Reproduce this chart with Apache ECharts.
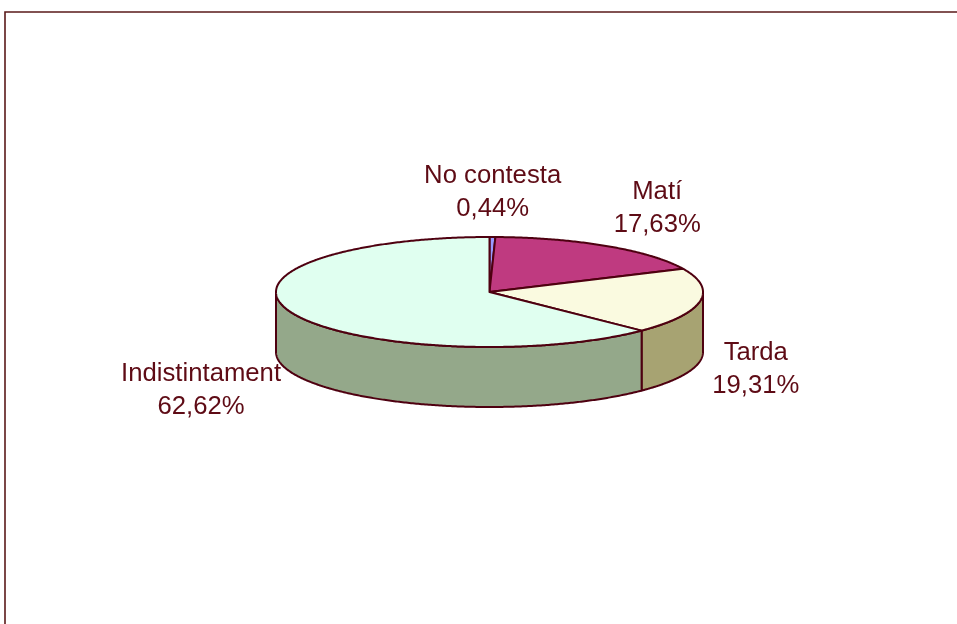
<!DOCTYPE html>
<html>
<head>
<meta charset="utf-8">
<script src="https://cdn.jsdelivr.net/npm/echarts@6/dist/echarts.min.js"></script>
<style>html,body{margin:0;padding:0;background:#fff}#c{width:957px;height:624px}</style>
</head>
<body>
<div id="c"></div>
<script>
// ---- data ----
const categories = ['No contesta', 'Matí', 'Tarda', 'Indistintament'];
const values = [0.44, 17.63, 19.31, 62.62];
const valueLabels = ['0,44%', '17,63%', '19,31%', '62,62%'];

// ---- style ----
const topColors = ['#9999ff', '#bf3a80', '#fafae0', '#e0fff0'];
const sideColors = ['#6f6fbf', '#8a2a5c', '#a7a372', '#94a88a'];
const STROKE = '#4e0010';
const TEXT = '#5e0b15';
const FONT_SIZE = 25.7;
const FONT = FONT_SIZE + 'px "Liberation Sans", Arial, sans-serif';

// geometry of the tilted pie
const CX = 489.5, CY = 292, RX = 213.5, RY = 55, DEPTH = 60;
const LRX = 226, LRY = 100;

const total = values.reduce((a, b) => a + b, 0);
const starts = [];
let acc = 0;
values.forEach(v => { starts.push(acc); acc += v; });

const measureCtx = document.createElement('canvas').getContext('2d');
measureCtx.font = FONT;
function textWidth(lines) {
  return Math.max.apply(null, lines.map(l => measureCtx.measureText(l).width));
}

function pt(t, dy) {
  return [CX + RX * Math.sin(t), CY - RY * Math.cos(t) + (dy || 0)];
}
function arc(t0, t1, dy) {
  const n = Math.max(2, Math.ceil((t1 - t0) / (Math.PI / 360)));
  const pts = [];
  for (let k = 0; k <= n; k++) pts.push(pt(t0 + (t1 - t0) * k / n, dy));
  return pts;
}

function renderItem(params, api) {
  const i = params.dataIndex;
  const v = api.value(0);
  const t0 = starts[i] / total * 2 * Math.PI;
  const t1 = (starts[i] + v) / total * 2 * Math.PI;
  const children = [];
  const s0 = Math.max(t0, Math.PI / 2), s1 = Math.min(t1, 3 * Math.PI / 2);
  if (s1 > s0) {
    const topArc = arc(s0, s1, 0);
    const botArc = arc(s0, s1, DEPTH).reverse();
    children.push({
      type: 'polygon', z2: 1,
      shape: { points: topArc.concat(botArc) },
      style: { fill: sideColors[i], stroke: STROKE, lineWidth: 2, lineJoin: 'round' }
    });
  }
  children.push({
    type: 'polygon', z2: 2,
    shape: { points: [[CX, CY]].concat(arc(t0, t1, 0)) },
    style: { fill: topColors[i], stroke: STROKE, lineWidth: 2, lineJoin: 'round' }
  });
  // label
  const tm = (t0 + t1) / 2;
  const sn = Math.sin(tm), cs = Math.cos(tm);
  const lines = [categories[i], valueLabels[i]];
  const w = textWidth(lines);
  let lx = CX + LRX * sn;
  if (Math.abs(sn) > 0.3) lx += Math.sign(sn) * w / 2;
  const ly = CY - LRY * cs + (cs < 0 ? DEPTH : 0);
  children.push({
    type: 'text', z2: 3,
    style: {
      text: lines.join('\n'), x: lx, y: ly,
      align: 'center', verticalAlign: 'middle',
      fill: TEXT, font: FONT, lineHeight: 33
    }
  });
  return { type: 'group', children };
}

const chart = echarts.init(document.getElementById('c'), null, { renderer: 'canvas' });
chart.setOption({
  animation: false,
  backgroundColor: '#ffffff',
  graphic: [{
    type: 'rect', z: 0,
    shape: { x: 5, y: 12, width: 1000, height: 700 },
    style: { fill: 'none', stroke: '#5a1a1a', lineWidth: 1.6 }
  }],
  series: [{
    type: 'custom',
    coordinateSystem: 'none',
    renderItem: renderItem,
    data: values.map((v, i) => ({ name: categories[i], value: v }))
  }]
});
</script>
</body>
</html>
